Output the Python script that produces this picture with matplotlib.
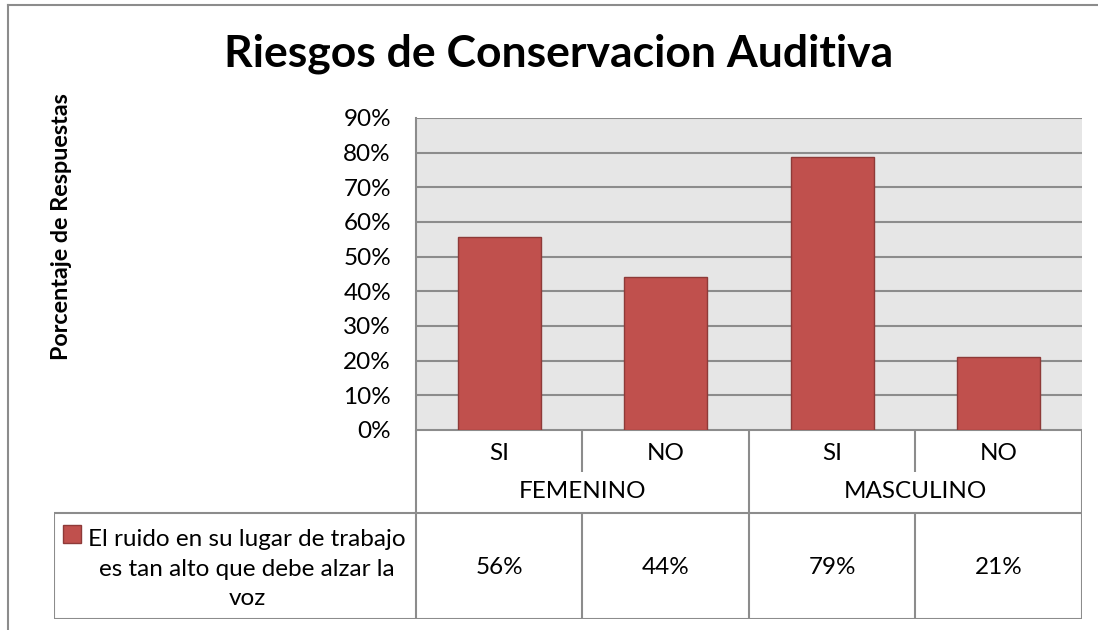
import matplotlib
matplotlib.use("Agg")
import matplotlib.pyplot as plt

categories = ['SI', 'NO', 'SI', 'NO']
groups = ['FEMENINO', 'MASCULINO']
values = [0.556, 0.441, 0.788, 0.212]
value_labels = ['56%', '44%', '79%', '21%']
series_name = 'El ruido en su lugar de trabajo\nes tan alto que debe alzar la\nvoz'
yticks = [0.0, 0.1, 0.2, 0.3, 0.4, 0.5, 0.6, 0.7, 0.8, 0.9]

plt.rcParams['font.family'] = ['Lato', 'DejaVu Sans']

W, H = 1098, 630
bar_color = '#C0504D'
edge_color = '#8E3A38'
line_color = '#8C8C8C'
fs = 17.5

fig = plt.figure(figsize=(W / 100, H / 100), dpi=100)

# outer chart border (only top and left visible in the reference)
fig.add_artist(plt.Line2D([8 / W, 8 / W], [0, 1 - 5 / H], color=line_color, lw=1.5))
fig.add_artist(plt.Line2D([8 / W, 1], [1 - 5 / H, 1 - 5 / H], color=line_color, lw=1.5))

# plot area in pixels
pl, pr, pt, pb = 416, 1082, 118, 430
ax = fig.add_axes([pl / W, 1 - pb / H, (pr - pl) / W, (pb - pt) / H])
ax.set_facecolor('#E6E6E6')
x = list(range(len(categories)))
ax.bar(x, values, width=0.5, color=bar_color, edgecolor=edge_color, linewidth=1, zorder=3)
ax.set_xlim(-0.5, len(categories) - 0.5)
ax.set_ylim(0, 0.9)
ax.set_yticks(yticks)
ax.set_yticklabels([f'{int(round(t * 100))}%' for t in yticks], fontsize=fs)
ax.tick_params(axis='y', length=0, pad=18)
ax.set_xticks([])
ax.grid(axis='y', color=line_color, lw=1.5, zorder=1)
for s in ['top', 'right', 'bottom']:
    ax.spines[s].set_visible(False)
ax.spines['left'].set_color(line_color)
ax.spines['left'].set_linewidth(1.5)

# data table below the plot
tl, tb = 54, 619
xmin = -0.5 - (pl - tl) / (pr - pl) * len(categories)
tax = fig.add_axes([tl / W, 1 - tb / H, (pr - tl) / W, (tb - pb) / H])
tax.set_xlim(xmin, len(categories) - 0.5)
tax.set_ylim(0, 1)
tax.axis('off')
th = tb - pb
def ty(py):
    return (tb - py) / th
def tx(px):
    return xmin + (px - tl) / (pr - pl) * len(categories)
y_stub = ty(472)
y_mid = ty(513)
lk = dict(color=line_color, lw=1.5, solid_capstyle='butt')
xr = len(categories) - 0.5
tax.plot([-0.5, xr], [1, 1], **lk)
tax.plot([xmin, xr], [y_mid, y_mid], **lk)
tax.plot([xmin, xr], [0, 0], **lk)
tax.plot([xmin, xmin], [0, y_mid], **lk)
for xv in [-0.5, 1.5, xr]:
    tax.plot([xv, xv], [0, 1], **lk)
for xv in [0.5, 2.5]:
    tax.plot([xv, xv], [y_stub, 1], **lk)
    tax.plot([xv, xv], [0, y_mid], **lk)

for i, c in enumerate(categories):
    tax.text(i, ty(454), c, ha='center', va='center', fontsize=fs)
    tax.text(i, ty(567), value_labels[i], ha='center', va='center', fontsize=fs)
for g, name in enumerate(groups):
    tax.text(2 * g + 0.5, ty(492), name, ha='center', va='center', fontsize=fs)

# legend key and series name
tax.plot([tx(72)], [ty(534)], marker='s', ms=13,
         mfc=bar_color, mec=edge_color, mew=1)
tax.text(tx(247), ty(569), series_name, ha='center', va='center',
         fontsize=fs, linespacing=1.5)

fig.text(559 / W, 1 - 66 / H, 'Riesgos de Conservacion Auditiva', ha='center', va='baseline',
         fontsize=32, fontweight='bold')
fig.text(62 / W, 1 - 227 / H, 'Porcentaje de Respuestas', ha='center', va='center',
         rotation=90, fontsize=16.8, fontweight='bold')

fig.savefig('out.png', dpi=100)
